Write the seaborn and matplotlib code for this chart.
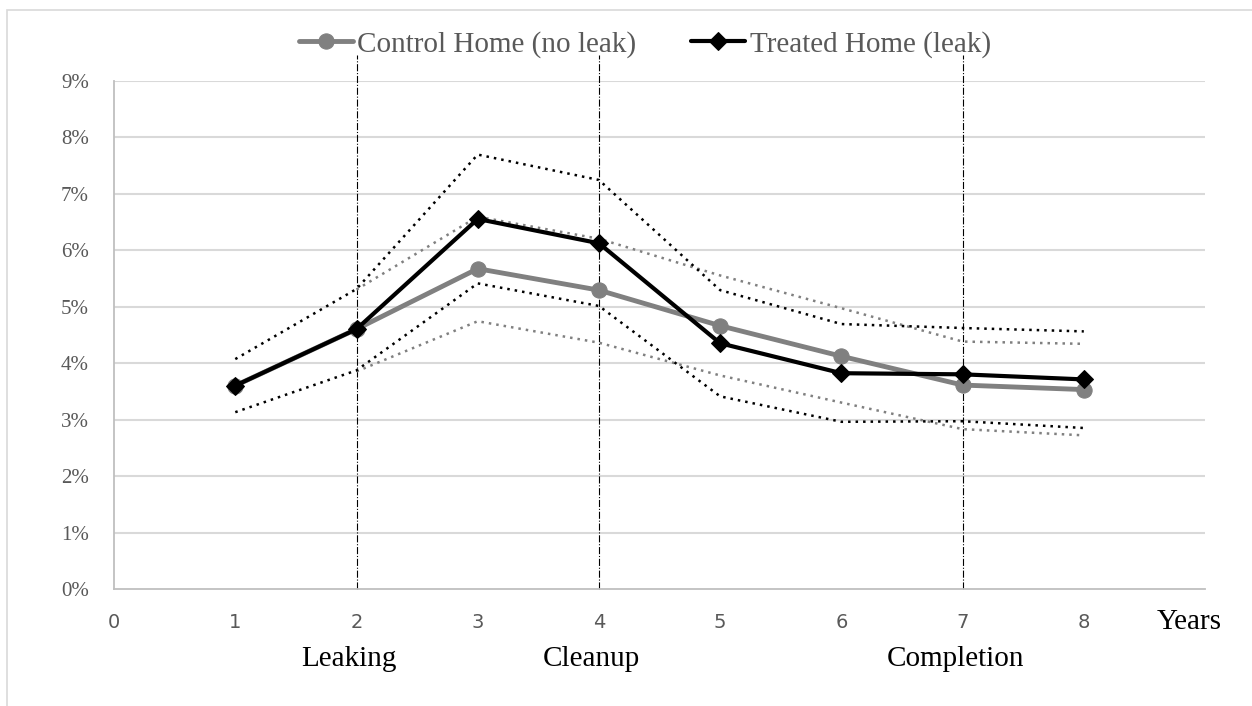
import numpy as np
import pandas as pd
import seaborn as sns
import matplotlib.pyplot as plt
from matplotlib.patches import Rectangle
from matplotlib.ticker import PercentFormatter

years = [1, 2, 3, 4, 5, 6, 7, 8]

# mean shares (%)
control = [3.60, 4.60, 5.67, 5.29, 4.66, 4.12, 3.61, 3.53]
treated = [3.60, 4.60, 6.55, 6.12, 4.35, 3.82, 3.80, 3.71]

# confidence bands (%)
control_hi = [np.nan, 5.30, 6.59, 6.20, 5.55, 4.97, 4.38, 4.34]
control_lo = [np.nan, 3.85, 4.74, 4.36, 3.78, 3.30, 2.83, 2.72]
treated_hi = [4.07, 5.31, 7.69, 7.24, 5.29, 4.69, 4.62, 4.56]
treated_lo = [3.13, 3.87, 5.41, 5.01, 3.41, 2.96, 2.97, 2.85]

events = [2, 4, 7]
event_labels = ['Leaking', 'Cleanup', 'Completion']

x_ticks = [0, 1, 2, 3, 4, 5, 6, 7, 8]
y_ticks = [0, 1, 2, 3, 4, 5, 6, 7, 8, 9]

sns.set_style('white')
plt.rcParams['font.family'] = ['DejaVu Sans']
serif = 'Liberation Serif'
label_grey = '#595959'

fig = plt.figure(figsize=(12.52, 7.06), dpi=100)
ax = fig.add_axes([0.0911, 0.1657, 0.8714, 0.7202])

# border of the chart area
fig.patches.append(Rectangle((0.0058, -0.01), 1.0, 0.996, transform=fig.transFigure,
                             fill=False, edgecolor='#d9d9d9', linewidth=1.2))

for yt in y_ticks[1:]:
    ax.axhline(yt, color='#d9d9d9', linewidth=1.5, zorder=0)

for ev in events:
    ax.plot([ev, ev], [0, 9.45], color='black', linestyle='-.', linewidth=0.8,
            clip_on=False, zorder=1)

df = pd.DataFrame({'year': years, 'control': control, 'treated': treated,
                   'control_hi': control_hi, 'control_lo': control_lo,
                   'treated_hi': treated_hi, 'treated_lo': treated_lo})

for col in ['control_hi', 'control_lo']:
    sns.lineplot(data=df, x='year', y=col, ax=ax, color='#808080',
                 linestyle=(0, (1, 2)), linewidth=1.8, zorder=2)
for col in ['treated_hi', 'treated_lo']:
    sns.lineplot(data=df, x='year', y=col, ax=ax, color='black',
                 linestyle=(0, (1, 2)), linewidth=1.8, zorder=2)

sns.lineplot(data=df, x='year', y='control', ax=ax, color='#808080', linewidth=3.5,
             marker='o', markersize=11, markeredgecolor='#808080',
             label='Control Home (no leak)', zorder=3)
sns.lineplot(data=df, x='year', y='treated', ax=ax, color='black', linewidth=3,
             marker='D', markersize=9, markeredgecolor='black',
             label='Treated Home (leak)', zorder=4)

ax.set_xlim(0, 9)
ax.set_ylim(0, 9)
ax.set_xticks(x_ticks)
ax.set_yticks(y_ticks)
ax.yaxis.set_major_formatter(PercentFormatter(decimals=0))
ax.tick_params(axis='both', length=0, labelcolor=label_grey)
ax.tick_params(axis='x', pad=17, labelsize=14)
ax.tick_params(axis='y', pad=18, labelsize=15)
for t in ax.get_yticklabels():
    t.set_fontfamily(serif)
ax.set_xlabel('')
ax.set_ylabel('')
for side, s in ax.spines.items():
    if side in ('left', 'bottom'):
        s.set_visible(True)
        s.set_color('#bfbfbf')
        s.set_linewidth(1.3)
    else:
        s.set_visible(False)

ax.text(8.87, -0.58, 'Years', fontfamily=serif, fontsize=21, ha='center', va='center',
        color='black')
for ev, lab in zip(events, event_labels):
    ax.text(ev - 0.06, -1.24, lab, fontfamily=serif, fontsize=21, ha='center',
            va='center', color='black')

ax.get_legend().remove()
handles, labels = ax.get_legend_handles_labels()
leg = fig.legend(handles, labels, loc='center', bbox_to_anchor=(0.515, 0.937), ncol=2,
                 frameon=False, prop={'family': serif, 'size': 21}, handlelength=1.85,
                 handletextpad=0.15, columnspacing=1.9)
for t in leg.get_texts():
    t.set_color(label_grey)

fig.savefig('out.png', dpi=100)
plt.close(fig)
